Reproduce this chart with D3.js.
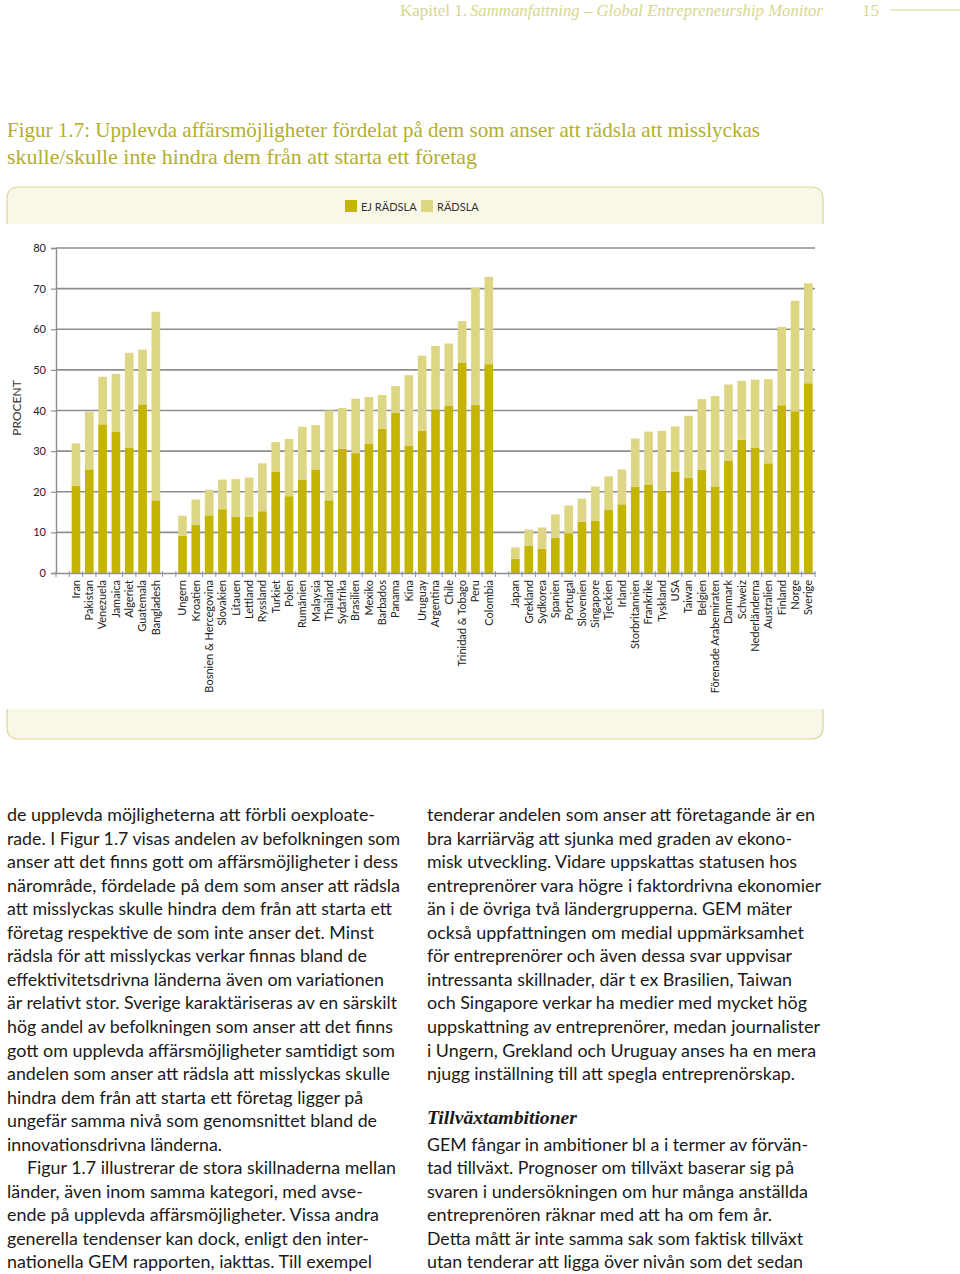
<!DOCTYPE html>
<html><head><meta charset="utf-8">
<script src="https://cdn.jsdelivr.net/npm/d3@7"></script>
<style>body{margin:0;background:#fff;}svg{display:block}</style>
</head><body><svg id="c" width="960" height="1274"></svg>
<script>
// ---------- data ----------
const categories = ["",
  "Iran","Pakistan","Venezuela","Jamaica","Algeriet","Guatemala","Bangladesh",
  " ",
  "Ungern","Kroatien","Bosnien & Hercegovina","Slovakien","Litauen","Lettland","Ryssland","Turkiet","Polen","Rumänien","Malaysia","Thailand","Sydafrika","Brasilien","Mexiko","Barbados","Panama","Kina","Uruguay","Argentina","Chile","Trinidad & Tobago","Peru","Colombia",
  "  ",
  "Japan","Grekland","Sydkorea","Spanien","Portugal","Slovenien","Singapore","Tjeckien","Irland","Storbritannien","Frankrike","Tyskland","USA","Taiwan","Belgien","Förenade Arabemiraten","Danmark","Schweiz","Nederländerna","Australien","Finland","Norge","Sverige"];
const ejRadsla = [null,
  21.5,25.5,36.6,34.7,30.8,41.5,17.9,
  null,
  9.2,11.9,14.2,15.7,13.9,13.9,15.2,25.0,18.9,23.0,25.5,17.9,30.6,29.5,31.8,35.5,39.5,31.3,35.0,40.3,41.1,51.7,41.4,51.4,
  null,
  3.5,6.7,6.0,8.7,9.8,12.6,12.9,15.5,16.9,21.2,21.8,20.3,24.9,23.4,25.4,21.3,27.7,32.8,30.9,27.0,41.3,39.8,46.7];
const radsla = [null,
  10.4,14.2,11.7,14.3,23.4,13.5,46.4,
  null,
  4.9,6.2,6.3,7.3,9.2,9.6,11.8,7.2,14.1,13.0,10.9,22.1,10.0,13.4,11.5,8.3,6.5,17.4,18.5,15.6,15.4,10.3,28.8,21.5,
  null,
  2.8,4.0,5.2,5.7,6.8,5.7,8.4,8.3,8.6,11.9,13.0,14.7,11.2,15.3,17.4,22.3,18.7,14.5,16.7,20.7,19.3,27.2,24.6];
const seriesNames = ["EJ RÄDSLA","RÄDSLA"];
const yTicks = [0,10,20,30,40,50,60,70,80];
const yLabel = "PROCENT";
const titleLines = ["Figur 1.7: Upplevda affärsmöjligheter fördelat på dem som anser att rädsla att misslyckas",
                    "skulle/skulle inte hindra dem från att starta ett företag"];
const headerPlain = "Kapitel 1.";
const headerItalic = "Sammanfattning – Global Entrepreneurship Monitor";
const pageNo = "15";
const leftLines = [
 ["de upplevda möjligheterna att förbli oexploate-",368],
 ["rade. I Figur 1.7 visas andelen av befolkningen som",393],
 ["anser att det finns gott om affärsmöjligheter i dess",391],
 ["närområde, fördelade på dem som anser att rädsla",393],
 ["att misslyckas skulle hindra dem från att starta ett",385],
 ["företag respektive de som inte anser det. Minst",367],
 ["rädsla för att misslyckas verkar finnas bland de",360],
 ["effektivitetsdrivna länderna även om variationen",377],
 ["är relativt stor. Sverige karaktäriseras av en särskilt",390],
 ["hög andel av befolkningen som anser att det finns",386],
 ["gott om upplevda affärsmöjligheter samtidigt som",388],
 ["andelen som anser att rädsla att misslyckas skulle",383],
 ["hindra dem från att starta ett företag ligger på",356],
 ["ungefär samma nivå som genomsnittet bland de",370],
 ["innovationsdrivna länderna.",215],
 ["Figur 1.7 illustrerar de stora skillnaderna mellan",369,20],
 ["länder, även inom samma kategori, med avse-",356],
 ["ende på upplevda affärsmöjligheter. Vissa andra",372],
 ["generella tendenser kan dock, enligt den inter-",362],
 ["nationella GEM rapporten, iakttas. Till exempel",365]];
const rightLines = [
 ["tenderar andelen som anser att företagande är en",388,0],
 ["bra karriärväg att sjunka med graden av ekono-",365,1],
 ["misk utveckling. Vidare uppskattas statusen hos",370,2],
 ["entreprenörer vara högre i faktordrivna ekonomier",394,3],
 ["än i de övriga två ländergrupperna. GEM mäter",365,4],
 ["också uppfattningen om medial uppmärksamhet",377,5],
 ["för entreprenörer och även dessa svar uppvisar",365,6],
 ["intressanta skillnader, där t ex Brasilien, Taiwan",365,7],
 ["och Singapore verkar ha medier med mycket hög",380,8],
 ["uppskattning av entreprenörer, medan journalister",393,9],
 ["i Ungern, Grekland och Uruguay anses ha en mera",389,10],
 ["njugg inställning till att spegla entreprenörskap.",368,11],
 ["GEM fångar in ambitioner bl a i termer av förvän-",381,14],
 ["tad tillväxt. Prognoser om tillväxt baserar sig på",367,15],
 ["svaren i undersökningen om hur många anställda",381,16],
 ["entreprenören räknar med att ha om fem år.",345,17],
 ["Detta mått är inte samma sak som faktisk tillväxt",376,18],
 ["utan tenderar att ligga över nivån som det sedan",376,19]];
const subHeading = "Tillväxtambitioner";

// ---------- styles ----------
const C_DARK = "#c3b500", C_LIGHT = "#ddd682";
const C_TITLE = "#b3ae2c", C_HEAD = "#d9d68f";
const C_FRAME = "#dcd79a", C_FILL = "#f9f8e6";
const GRID = "#8e8e8e";
const svg = d3.select("#c");

// header
svg.append("text").attr("x",400).attr("y",16).attr("fill",C_HEAD)
  .attr("font-family","Liberation Serif, serif").attr("font-size",17)
  .text(headerPlain);
svg.append("text").attr("x",470).attr("y",16).attr("fill",C_HEAD)
  .attr("font-family","Liberation Serif, serif").attr("font-size",17).attr("font-style","italic")
  .attr("textLength",353).attr("lengthAdjust","spacingAndGlyphs")
  .text(headerItalic);
svg.append("text").attr("x",862).attr("y",16).attr("fill",C_HEAD)
  .attr("font-family","Liberation Serif, serif").attr("font-size",17).text(pageNo);
svg.append("line").attr("x1",890).attr("x2",960).attr("y1",10).attr("y2",10)
  .attr("stroke",C_HEAD).attr("stroke-width",1);

// title
const titleW = [753, 470];
titleLines.forEach((t,i)=>{
  svg.append("text").attr("x",7).attr("y",137+i*27).attr("fill",C_TITLE)
    .attr("font-family","Liberation Serif, serif").attr("font-size",21)
    .attr("textLength",titleW[i]).attr("lengthAdjust","spacingAndGlyphs").text(t);
});

// frame
const fx0=7, fx1=823, r=12;
svg.append("path").attr("d",`M${fx0},224 V${187+r} Q${fx0},187 ${fx0+r},187 H${fx1-r} Q${fx1},187 ${fx1},${187+r} V224 Z`)
  .attr("fill",C_FILL).attr("stroke","none");
svg.append("path").attr("d",`M${fx0},224 V${187+r} Q${fx0},187 ${fx0+r},187 H${fx1-r} Q${fx1},187 ${fx1},${187+r} V224`)
  .attr("fill","none").attr("stroke",C_FRAME).attr("stroke-width",1.2);
svg.append("path").attr("d",`M${fx0},709 V${739-r} Q${fx0},739 ${fx0+r},739 H${fx1-r} Q${fx1},739 ${fx1},${739-r} V709 Z`)
  .attr("fill",C_FILL).attr("stroke","none");
svg.append("path").attr("d",`M${fx0},709 V${739-r} Q${fx0},739 ${fx0+r},739 H${fx1-r} Q${fx1},739 ${fx1},${739-r} V709`)
  .attr("fill","none").attr("stroke",C_FRAME).attr("stroke-width",1.2);

// legend
const legX = [345, 421];
seriesNames.forEach((n,i)=>{
  svg.append("rect").attr("x",legX[i]).attr("y",200).attr("width",12).attr("height",12)
    .attr("fill", i===0?C_DARK:C_LIGHT);
  svg.append("text").attr("x",legX[i]+16).attr("y",210.5).attr("fill","#333")
    .attr("font-family","Lato, sans-serif").attr("font-size",11).text(n);
});

// scales
const x = d3.scaleBand().domain(d3.range(categories.length)).range([56,815])
  .paddingInner(0.35).paddingOuter(0.175);
const y = d3.scaleLinear().domain([0,80]).range([573,248]);

// gridlines
svg.append("g").selectAll("line").data(yTicks.filter(v=>v>0)).join("line")
  .attr("x1",56).attr("x2",815).attr("y1",d=>y(d)).attr("y2",d=>y(d))
  .attr("stroke",GRID).attr("stroke-width",1.6);

// bars
const rows = categories.map((c,i)=>({i, ej: ejRadsla[i], rad: radsla[i]})).filter(d=>d.ej!=null);
const stack = d3.stack().keys(["ej","rad"])(rows);
const colors = [C_DARK, C_LIGHT];
svg.append("g").selectAll("g").data(stack).join("g").attr("fill",(d,k)=>colors[k])
  .selectAll("rect").data(d=>d).join("rect")
  .attr("x",d=>x(d.data.i)).attr("width",x.bandwidth())
  .attr("y",d=>y(d[1])).attr("height",d=>y(d[0])-y(d[1]));

// y axis
const yAx = svg.append("g").attr("transform","translate(56,0)")
  .call(d3.axisLeft(y).tickValues(yTicks).tickSize(5).tickPadding(5));
yAx.select(".domain").attr("stroke",GRID).attr("stroke-width",1.4);
yAx.selectAll(".tick line").attr("stroke",GRID).attr("stroke-width",1.2);
yAx.selectAll("text").attr("font-family","Lato, sans-serif").attr("font-size",11).attr("fill","#222");

// x axis
const xAx = svg.append("g").attr("transform","translate(0,573)")
  .call(d3.axisBottom(x).tickSize(0).tickFormat(i=>categories[i]));
xAx.select(".domain").attr("stroke",GRID).attr("stroke-width",1.4);
xAx.selectAll("text").attr("transform","rotate(-90)").attr("text-anchor","end")
  .attr("x",-7).attr("y",0).attr("dy","0.35em")
  .attr("font-family","Lato, sans-serif").attr("font-size",11).attr("fill","#222");
// boundary tick marks
const r0 = x.range()[0];
svg.append("g").selectAll("line").data(d3.range(categories.length+1)).join("line")
  .attr("x1",k=>r0+k*x.step()).attr("x2",k=>r0+k*x.step())
  .attr("y1",571).attr("y2",577).attr("stroke","#8a96b0").attr("stroke-width",1);

// y label
svg.append("text").attr("transform","translate(21,408) rotate(-90)").attr("text-anchor","middle")
  .attr("font-family","Lato, sans-serif").attr("font-size",12).attr("fill","#333").text(yLabel);

// body text
const base = 821, lh = 23.55;
leftLines.forEach((l,i)=>{
  svg.append("text").attr("x",7+(l[2]||0)).attr("y",base+i*lh).attr("fill","#1a1a1a")
    .attr("font-family","Lato, sans-serif").attr("font-size",17.5)
    .attr("textLength",l[1]).attr("lengthAdjust","spacingAndGlyphs").text(l[0]);
});
rightLines.forEach(l=>{
  svg.append("text").attr("x",427).attr("y",base+l[2]*lh).attr("fill","#1a1a1a")
    .attr("font-family","Lato, sans-serif").attr("font-size",17.5)
    .attr("textLength",l[1]).attr("lengthAdjust","spacingAndGlyphs").text(l[0]);
});
svg.append("text").attr("x",427).attr("y",1124).attr("fill","#1a1a1a")
  .attr("font-family","Liberation Serif, serif").attr("font-size",19)
  .attr("font-weight","bold").attr("font-style","italic")
  .attr("textLength",150).attr("lengthAdjust","spacingAndGlyphs").text(subHeading);
</script></body></html>
